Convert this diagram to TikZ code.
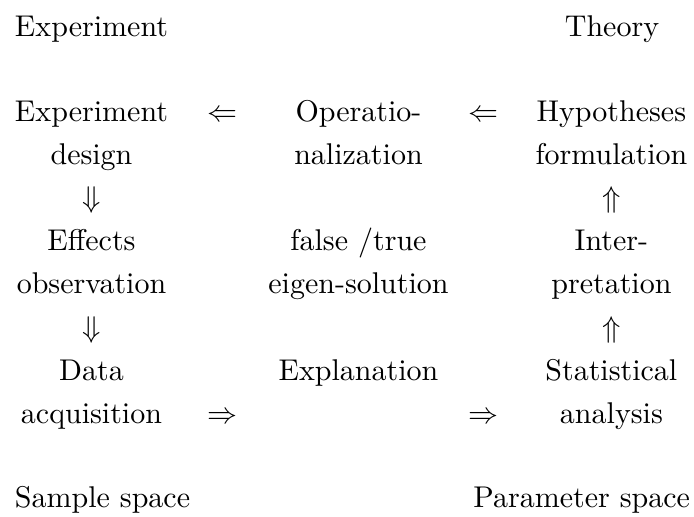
\documentclass[tikz,border=0pt]{standalone}
\usepackage{amsmath}
\begin{document}
\begin{tikzpicture}[x=1pt,y=1pt,
  lbl/.style={inner sep=0pt,outer sep=0pt,align=center,anchor=base,font=\fontsize{10}{14.4}\selectfont},
  arr/.style={inner sep=0pt,anchor=base}]
\useasboundingbox (0,0) rectangle (231.33,-172);
% titles
\node[lbl,anchor=base west] (texp) at (5,-12) {Experiment};
\node[lbl,anchor=base east] (ttheo) at (219.7,-12) {Theory};
\node[lbl,anchor=base west] (tsample) at (5,-169) {Sample space};
\node[lbl,anchor=base east] (tparam) at (230,-169) {Parameter space};
% nodes (base = baseline of last line)
\node[lbl] (design) at (30.5,-54.73) {Experiment\\design};
\node[lbl] (oper) at (119.5,-54.73) {Operatio-\\nalization};
\node[lbl] (hyp) at (203.8,-54.73) {Hypotheses\\formulation};
\node[lbl] (effects) at (30.5,-97.93) {Effects\\observation};
\node[lbl] (eigen) at (119.5,-97.93) {false /true\\eigen-solution};
\node[lbl] (interp) at (203.8,-97.93) {Inter-\\pretation};
\node[lbl] (data) at (30.5,-141.13) {Data\\acquisition};
\node[lbl] (expl) at (119.5,-126.73) {Explanation};
\node[lbl] (stat) at (203.8,-141.13) {Statistical\\analysis};
% arrows (as printed symbols)
\node[arr] (a1) at (74.3,-40.33) {$\Leftarrow$};
\node[arr] (a2) at (161.2,-40.33) {$\Leftarrow$};
\node[arr] (a3) at (30.5,-69.13) {$\Downarrow$};
\node[arr] (a4) at (203.8,-69.13) {$\Uparrow$};
\node[arr] (a5) at (30.5,-112.33) {$\Downarrow$};
\node[arr] (a6) at (203.8,-112.33) {$\Uparrow$};
\node[arr] (a7) at (74.3,-141.13) {$\Rightarrow$};
\node[arr] (a8) at (161.2,-141.13) {$\Rightarrow$};
\end{tikzpicture}
\end{document}
